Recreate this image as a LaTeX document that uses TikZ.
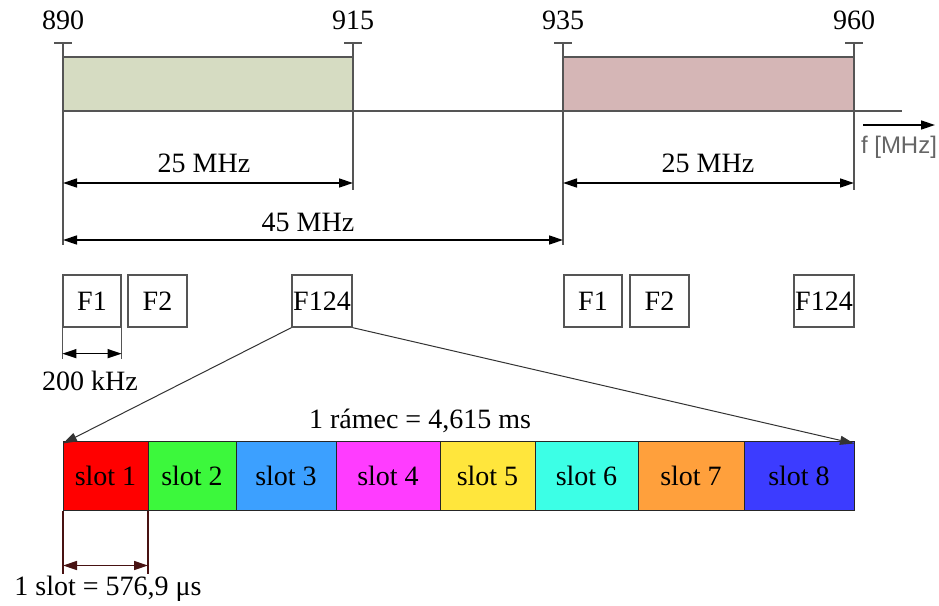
\documentclass[tikz,border=0pt]{standalone}
\usepackage{fontspec}
\setmainfont{Liberation Serif}
\newfontfamily\axisfont{Liberation Sans}
\usetikzlibrary{arrows.meta}
\definecolor{bandA}{RGB}{214,220,194}
\definecolor{bandB}{RGB}{213,182,182}
\definecolor{lineG}{RGB}{85,85,85}
\definecolor{brownL}{RGB}{72,18,18}
\definecolor{sA}{RGB}{255,0,0}
\definecolor{sB}{RGB}{60,248,60}
\definecolor{sC}{RGB}{60,160,255}
\definecolor{sD}{RGB}{255,60,255}
\definecolor{sE}{RGB}{255,230,60}
\definecolor{sF}{RGB}{60,255,230}
\definecolor{sG}{RGB}{255,160,60}
\definecolor{sH}{RGB}{60,60,255}
\begin{document}
\begin{tikzpicture}[x=1pt,y=-1pt,
  bigfont/.style={font=\fontsize{28}{32}\selectfont},
  txt/.style={inner sep=0pt, bigfont},
  vline/.style={draw=lineG, line width=1.4pt},
  dimarrow/.style={{Triangle[length=14pt,width=9pt]}-{Triangle[length=14pt,width=9pt]}, line width=1.4pt, draw=black},
  fbox/.style={draw=lineG, line width=1.3pt, minimum height=52pt, inner sep=0pt, bigfont},
  slotbox/.style={draw=black!85, line width=1pt, minimum height=69pt, inner sep=0pt, outer sep=0pt, anchor=west, bigfont},
  zoomline/.style={draw=black!80, line width=1pt, -{Triangle[length=14pt,width=9pt]}}
]
\useasboundingbox (0,0) rectangle (939,605);

% band edges and tick caps
\coordinate (t890) at (63,43);
\coordinate (t915) at (353,43);
\coordinate (t935) at (563,43);
\coordinate (t960) at (854,43);
\foreach \c in {t890,t915,t935,t960}
  \draw[vline] (\c) ++(-9,0) -- ++(18,0);

% frequency bands
\fill[bandA] (63,57) rectangle (353,111);
\fill[bandB] (563,57) rectangle (854,111);
\draw[vline] (63,57) -- (353,57);
\draw[vline] (563,57) -- (854,57);
\draw[vline] (63,111) -- (902,111);

% vertical markers
\draw[vline] (t890) -- (63,245);
\draw[vline] (t915) -- (353,190);
\draw[vline] (t935) -- (563,245);
\draw[vline] (t960) -- (854,190);

% frequency labels
\node[txt] (l890) at (63,20) {890};
\node[txt] (l915) at (353,20) {915};
\node[txt] (l935) at (563,20) {935};
\node[txt] (l960) at (854,20) {960};

% frequency axis
\coordinate (fa) at (863,125);
\coordinate (fb) at (935,125);
\draw[line width=1.4pt, -{Triangle[length=14pt,width=9pt]}] (fa) -- (fb);
\node[inner sep=0pt, text=black!60, font=\axisfont\fontsize{24}{28}\selectfont] (fl) at (899,147) {f [MHz]};

% bandwidth dimensions
\draw[dimarrow] (63,183) -- (353,183);
\node[txt] (w1) at (204,163) {25 MHz};
\draw[dimarrow] (563,183) -- (854,183);
\node[txt] (w2) at (708,163) {25 MHz};
\draw[dimarrow] (63,240) -- (563,240);
\node[txt] (w3) at (308,222) {45 MHz};

% carriers
\node[fbox, minimum width=58pt] (F1a) at (92,301) {F1};
\node[fbox, minimum width=59pt] (F2a) at (157.5,301) {F2};
\node[fbox, minimum width=60pt] (F124a) at (322,301) {F124};
\node[fbox, minimum width=58pt] (F1b) at (593,301) {F1};
\node[fbox, minimum width=59pt] (F2b) at (659.5,301) {F2};
\node[fbox, minimum width=60pt] (F124b) at (824,301) {F124};

% carrier spacing
\draw[vline] (F1a.south west) -- ++(0,31);
\draw[vline] (F1a.south east) -- ++(0,31);
\draw[dimarrow] ([yshift=-26pt]F1a.south west) -- ([yshift=-26pt]F1a.south east);
\node[txt] (k200) at (90,381) {200 kHz};

% TDMA frame
\node[slotbox, fill=sA, minimum width=85pt]  (s1) at (63,476) {slot 1};
\node[slotbox, fill=sB, minimum width=88pt]  (s2) at (s1.east) {slot 2};
\node[slotbox, fill=sC, minimum width=100pt] (s3) at (s2.east) {slot 3};
\node[slotbox, fill=sD, minimum width=104pt] (s4) at (s3.east) {slot 4};
\node[slotbox, fill=sE, minimum width=95pt]  (s5) at (s4.east) {slot 5};
\node[slotbox, fill=sF, minimum width=103pt] (s6) at (s5.east) {slot 6};
\node[slotbox, fill=sG, minimum width=106pt] (s7) at (s6.east) {slot 7};
\node[slotbox, fill=sH, minimum width=110pt] (s8) at (s7.east) {slot 8};
\node[txt] (frm) at (420,421) {1 rámec = 4,615 ms};

% expansion of carrier F124
\draw[zoomline] (F124a.south west) -- ([yshift=-2pt]s1.north west);
\draw[zoomline] (F124a.south east) -- ([yshift=-2pt]s8.north east);

% slot duration
\draw[draw=brownL, line width=1.4pt] (s1.south west) -- ++(0,63);
\draw[draw=brownL, line width=1.4pt] (s1.south east) -- ++(0,63);
\draw[draw=brownL, line width=1.4pt, {Triangle[length=14pt,width=9pt,fill=brownL]}-{Triangle[length=14pt,width=9pt,fill=brownL]}] ([yshift=-55pt]s1.south west) -- ([yshift=-55pt]s1.south east);
\node[txt] (sd) at (108,589) {1 slot = 576,9 μs};
\end{tikzpicture}
\end{document}
